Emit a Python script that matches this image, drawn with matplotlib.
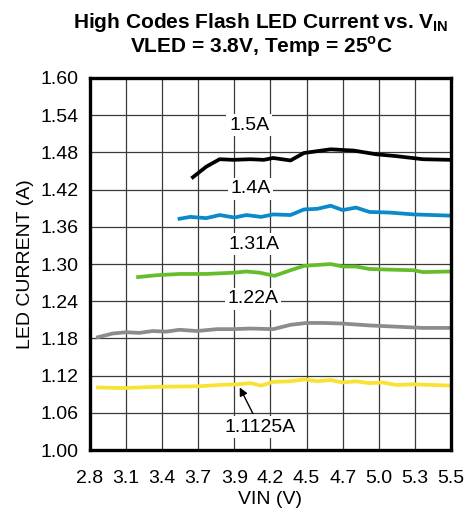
#!/usr/bin/env python3

import numpy as np
import matplotlib.pyplot as plt

plt.rcParams['font.family'] = ['Liberation Sans', 'DejaVu Sans']
plt.rcParams['mathtext.fontset'] = 'custom'
plt.rcParams['mathtext.rm'] = 'Liberation Sans'
plt.rcParams['mathtext.bf'] = 'Liberation Sans:bold'

# VIN (V) vs LED current (A)
vin_15 = [3.57, 3.67, 3.77, 3.87, 4.00, 4.10, 4.17, 4.30, 4.40, 4.60, 4.77, 4.94, 5.09, 5.29, 5.50]
cur_15 = [1.440, 1.457, 1.469, 1.468, 1.469, 1.468, 1.471, 1.467, 1.479, 1.485, 1.483, 1.477, 1.474, 1.469, 1.468]

vin_14 = [3.47, 3.55, 3.67, 3.77, 3.88, 3.97, 4.08, 4.17, 4.30, 4.40, 4.50, 4.60, 4.69, 4.79, 4.89, 5.04, 5.22, 5.50]
cur_14 = [1.373, 1.376, 1.374, 1.379, 1.375, 1.379, 1.376, 1.380, 1.379, 1.388, 1.389, 1.394, 1.387, 1.391, 1.384, 1.383, 1.380, 1.378]

vin_131 = [3.16, 3.30, 3.47, 3.67, 3.87, 3.97, 4.07, 4.18, 4.30, 4.40, 4.60, 4.69, 4.79, 4.89, 5.04, 5.22, 5.29, 5.50]
cur_131 = [1.279, 1.282, 1.284, 1.284, 1.286, 1.288, 1.286, 1.281, 1.290, 1.297, 1.300, 1.296, 1.296, 1.292, 1.291, 1.290, 1.287, 1.288]

vin_122 = [2.86, 2.97, 3.07, 3.17, 3.27, 3.37, 3.47, 3.60, 3.75, 3.87, 4.00, 4.17, 4.30, 4.42, 4.55, 4.69, 4.89, 5.09, 5.29, 5.50]
cur_122 = [1.182, 1.188, 1.190, 1.189, 1.192, 1.191, 1.194, 1.192, 1.195, 1.195, 1.196, 1.195, 1.202, 1.205, 1.205, 1.204, 1.201, 1.199, 1.197, 1.197]

vin_111 = [2.86, 3.05, 3.30, 3.62, 3.77, 3.90, 4.00, 4.08, 4.17, 4.30, 4.41, 4.50, 4.60, 4.69, 4.79, 4.89, 4.99, 5.09, 5.22, 5.50]
cur_111 = [1.101, 1.100, 1.102, 1.103, 1.105, 1.106, 1.108, 1.104, 1.110, 1.111, 1.114, 1.111, 1.113, 1.109, 1.111, 1.108, 1.109, 1.105, 1.106, 1.104]

x_labels = ['2.8', '3.1', '3.4', '3.7', '3.9', '4.2', '4.5', '4.7', '5.0', '5.3', '5.5']
y_ticks = [1.00, 1.06, 1.12, 1.18, 1.24, 1.30, 1.36, 1.42, 1.48, 1.54, 1.60]


def main():
    fig = plt.figure(figsize=(4.71, 5.08), dpi=100)
    ax = fig.add_axes([0.191, 0.114, 0.7665, 0.7325])

    lw = 2.7
    ax.plot(vin_15, cur_15, color='black', lw=lw, zorder=3)
    ax.plot(vin_14, cur_14, color='#0A8ACB', lw=lw, zorder=3)
    ax.plot(vin_131, cur_131, color='#66BD2C', lw=lw, zorder=3)
    ax.plot(vin_122, cur_122, color='#8C8C8C', lw=lw, zorder=3)
    ax.plot(vin_111, cur_111, color='#F8E234', lw=lw, zorder=3)

    box = dict(facecolor='white', edgecolor='none', pad=2)
    for txt, x, y in [('1.5A', 3.99, 1.524), ('1.4A', 4.00, 1.421),
                      ('1.31A', 4.03, 1.332), ('1.22A', 4.02, 1.244)]:
        ax.text(x, y, txt, fontsize=14, ha='center', va='center', bbox=box, zorder=4)

    ax.annotate('1.1125A', xy=(3.92, 1.101), xytext=(4.07, 1.037),
                fontsize=14, ha='center', va='center', bbox=box, zorder=4,
                arrowprops=dict(arrowstyle='-|>', color='black', lw=1.0,
                                mutation_scale=12, shrinkA=2, shrinkB=0))

    ax.set_xlim(2.8, 5.5)
    ax.set_ylim(1.00, 1.60)
    ax.set_xticks(np.linspace(2.8, 5.5, 11))
    ax.set_xticklabels(x_labels)
    ax.set_yticks(y_ticks)
    ax.set_yticklabels(['%.2f' % v for v in y_ticks])
    ax.tick_params(length=0, labelsize=14)
    ax.tick_params(axis='x', pad=14)
    ax.tick_params(axis='y', pad=8)
    ax.grid(True, color='#3a3a3a', lw=0.9, zorder=1)
    for s in ax.spines.values():
        s.set_linewidth(2.4)
        s.set_zorder(5)

    ax.set_xlabel('VIN (V)', fontsize=14, labelpad=3)
    ax.set_ylabel('LED CURRENT (A)', fontsize=14, labelpad=5)

    fig.text(0.553, 0.956, r'High Codes Flash LED Current vs. V$_{\mathbf{IN}}$',
             ha='center', va='center', fontsize=15, fontweight='bold')
    fig.text(0.555, 0.908, r'VLED = 3.8V, Temp = 25$^{\mathbf{o}}$C',
             ha='center', va='center', fontsize=15, fontweight='bold')

    fig.savefig('out.png', dpi=100)


if __name__ == "__main__":
    main()
